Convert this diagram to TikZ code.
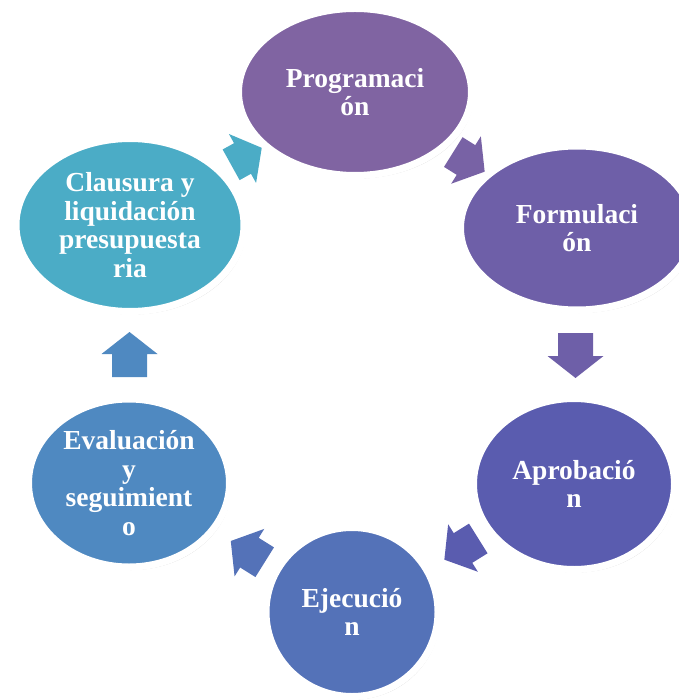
\documentclass[tikz,border=0pt]{standalone}
\usepackage{fontspec}
\setmainfont{Liberation Serif}
\usetikzlibrary{shapes.geometric,shadows,calc,backgrounds}

\definecolor{progcol}{HTML}{8064A2}
\definecolor{formcol}{HTML}{6E5FA8}
\definecolor{aprobcol}{HTML}{5A5CAF}
\definecolor{ejeccol}{HTML}{5472B8}
\definecolor{evalcol}{HTML}{4F89C1}
\definecolor{clauscol}{HTML}{4BACC6}

\tikzset{
  pics/cyclearrow/.style 2 args={code={
    \fill[#2] (-#1,-17.5) -- (0,-17.5) -- (0,-28) -- (22,0) -- (0,28) -- (0,17.5) -- (-#1,17.5) -- cycle;
  }}
}

\begin{document}
\begin{tikzpicture}[x=1pt,y=-1pt]

     \tikzstyle{phase}=[ellipse,draw=white,line width=7pt,inner sep=0pt,text=white,align=center,
        font=\fontsize{27.5}{28.7}\selectfont\bfseries,
        drop shadow={shadow xshift=2pt,shadow yshift=-3pt,opacity=.35}]

      \useasboundingbox (0,0) rectangle (678,700);

         \node[phase,fill=progcol,minimum width=233,minimum height=167] (prog) at (355,92) {Programaci\\ón};
         \node[phase,fill=formcol,minimum width=233,minimum height=164] (form) at (577,228) {Formulaci\\ón};
         \node[phase,fill=aprobcol,minimum width=201,minimum height=171] (aprob) at (574,484) {Aprobació\\n};
         \node[phase,fill=ejeccol,minimum width=172,minimum height=169] (ejec) at (352,612) {Ejecució\\n};
         \node[phase,fill=evalcol,minimum width=201,minimum height=168] (eval) at (129,483) {Evaluación\\y\\seguimient\\o};
         \node[phase,fill=clauscol,minimum width=228,minimum height=173] (claus) at (130,225) {Clausura y\\liquidación\\presupuesta\\ria};

      \begin{scope}[on background layer]
         \pic[rotate=-32] at ($(prog)!.5!(form)$) {cyclearrow={15}{progcol!55!formcol}};
         \pic[rotate=-90] at ($(form)!.5!(aprob)$) {cyclearrow={23}{formcol}};
         \pic[rotate=-148] at ($(aprob)!.5!(ejec)$) {cyclearrow={18}{aprobcol}};
         \pic[rotate=148] at ($(ejec)!.46!(eval)$) {cyclearrow={18}{ejeccol}};
         \pic[rotate=90] at ($(eval)!.5!(claus)$) {cyclearrow={23}{evalcol}};
         \pic[rotate=29] at ($(claus)!.5!(prog)$) {cyclearrow={13}{clauscol}};
      \end{scope}

  \end{tikzpicture}
\end{document}
